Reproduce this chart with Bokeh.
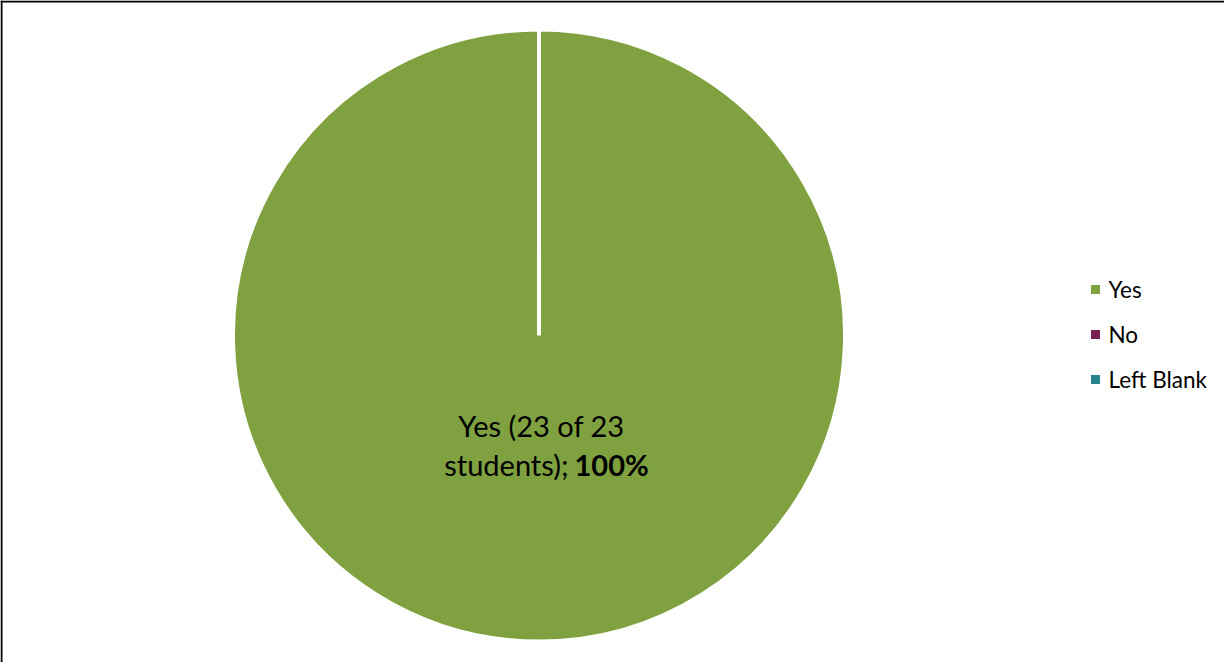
import math
from bokeh.plotting import figure
from bokeh.models import Range1d, Span, ColumnDataSource
from bokeh.core.properties import value
from bokeh.embed import file_html
from bokeh.resources import INLINE

# ---- data ----
categories = ["Yes", "No", "Left Blank"]
counts = [23, 0, 0]
colors = ["#7FA13F", "#772251", "#27858F"]
total_students = 23

W, H = 1224, 662
p = figure(width=W, height=H, output_backend="svg", toolbar_location=None,
           x_range=Range1d(0, W), y_range=Range1d(0, H), min_border=0)
p.axis.visible = False
p.grid.visible = False
p.outline_line_color = None
p.background_fill_color = "white"
p.border_fill_color = "white"

# chart frame (left and top edges visible in the window)
p.add_layout(Span(location=1, dimension="height", line_color="black", line_width=2))
p.add_layout(Span(location=H - 1, dimension="width", line_color="black", line_width=2))

cx, cy, r = 538.5, 327.0, 306
tot = sum(counts)
starts, ends, cats, cols = [], [], [], []
acc = 0.0
for cat, c, col in zip(categories, counts, colors):
    a0 = math.pi / 2 - 2 * math.pi * acc / tot
    acc += c
    span = 2 * math.pi * c / tot
    span = min(span, 2 * math.pi - 1e-4)
    a1 = a0 - span
    if c > 0:
        starts.append(a0)
        ends.append(a1)
        cats.append(cat)
        cols.append(col)

src = ColumnDataSource(dict(cat=cats, start=starts, end=ends, color=cols))
p.wedge(x=cx, y=cy, radius=r, radius_units="screen", start_angle="start", end_angle="end",
        direction="clock", fill_color="color", line_color="white", line_width=4, source=src)

# data label
pct = round(100 * counts[0] / tot)
font = value("Lato")
fs = "29px"
p.text(x=[cx + 2.5], y=[cy - 90], text=[f"{categories[0]} ({counts[0]} of {total_students}"],
       text_font=font, text_font_size=fs, text_align="center",
       text_baseline="alphabetic", text_color="black")
p.text(x=[cx + 29.5], y=[cy - 129], text=["students);"],
       text_font=font, text_font_size=fs, text_align="right",
       text_baseline="alphabetic", text_color="black")
p.text(x=[cx + 35.5], y=[cy - 129], text=[f"{pct}%"],
       text_font=font, text_font_size=fs, text_font_style="bold", text_align="left",
       text_baseline="alphabetic", text_color="black")

# legend
lx = 1095
ly = [373 - 45 * i for i in range(len(categories))]
p.scatter(x=[lx] * len(categories), y=ly, marker="square", size=9, fill_color=colors,
          line_color=None)
p.text(x=[lx + 13] * len(categories), y=ly, text=categories, text_font=font,
       text_font_size="22.5px", text_align="left", text_baseline="middle", text_color="black")

open("out.html", "w").write(file_html(p, INLINE))
